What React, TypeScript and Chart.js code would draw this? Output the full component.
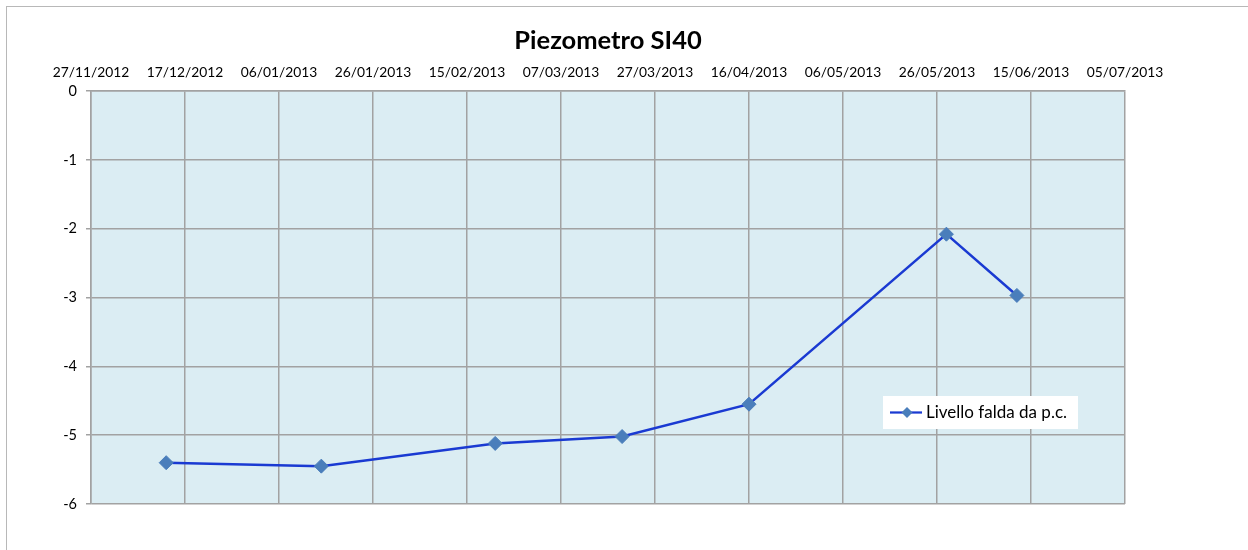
import React, { useEffect, useRef } from "react";
import { Chart, registerables } from "chart.js";

Chart.register(...registerables);

const chartTitle = "Piezometro SI40";
const seriesLabel = "Livello falda da p.c.";
const measureDates = ["2012-12-13", "2013-01-15", "2013-02-21", "2013-03-20", "2013-04-16", "2013-05-28", "2013-06-12"];
const levels = [-5.4, -5.45, -5.12, -5.02, -4.55, -2.08, -2.97];
const xAxisStart = "2012-11-27";
const xAxisEnd = "2013-07-05";
const xTickStepDays = 20;
const yMin = -6;
const yMax = 0;
const yStep = 1;

const DAY = 86400000;
const toMs = (s: string) => {
  const [y, m, d] = s.split("-").map(Number);
  return Date.UTC(y, m - 1, d);
};
const fmt = (v: number) => {
  const d = new Date(v);
  const dd = String(d.getUTCDate()).padStart(2, "0");
  const mm = String(d.getUTCMonth() + 1).padStart(2, "0");
  return `${dd}/${mm}/${d.getUTCFullYear()}`;
};

const FONT = "Lato";
const GRID = "#a2a2a2";

const bgPlugin = {
  id: "plotBg",
  beforeDraw(chart: any) {
    const { ctx, chartArea: a } = chart;
    ctx.save();
    ctx.fillStyle = "#dbedf3";
    ctx.fillRect(a.left, a.top, a.right - a.left, a.bottom - a.top);
    ctx.restore();
  },
};

const legendPlugin = {
  id: "innerLegend",
  afterDatasetsDraw(chart: any) {
    const { ctx, chartArea: a } = chart;
    const ds = chart.data.datasets[0];
    const x = a.right - 242;
    const y = a.top + 305;
    const w = 195;
    const h = 33;
    ctx.save();
    ctx.fillStyle = "#ffffff";
    ctx.fillRect(x, y, w, h);
    const cy = y + h / 2;
    ctx.strokeStyle = ds.borderColor;
    ctx.lineWidth = 2.25;
    ctx.beginPath();
    ctx.moveTo(x + 7, cy);
    ctx.lineTo(x + 39, cy);
    ctx.stroke();
    const r = 5.5;
    const cx = x + 24;
    ctx.fillStyle = ds.pointBackgroundColor;
    ctx.beginPath();
    ctx.moveTo(cx, cy - r);
    ctx.lineTo(cx + r, cy);
    ctx.lineTo(cx, cy + r);
    ctx.lineTo(cx - r, cy);
    ctx.closePath();
    ctx.fill();
    ctx.fillStyle = "#000";
    ctx.font = `17px ${FONT}`;
    ctx.textBaseline = "middle";
    ctx.textAlign = "left";
    ctx.fillText(ds.label, x + 43, cy);
    ctx.restore();
  },
};

export default function App() {
  const ref = useRef<HTMLCanvasElement>(null);
  useEffect(() => {
    if (!ref.current) return;
    const chart = new Chart(ref.current, {
      type: "line",
      data: {
        datasets: [
          {
            label: seriesLabel,
            data: measureDates.map((d, i) => ({ x: toMs(d), y: levels[i] })),
            borderColor: "#1a3ad2",
            borderWidth: 2.5,
            backgroundColor: "#4a7ebb",
            pointBackgroundColor: "#4a7ebb",
            pointBorderColor: "#4a7ebb",
            pointBorderWidth: 1,
            pointStyle: "rectRot",
            pointRadius: 7,
            tension: 0,
            fill: false,
          },
        ],
      },
      options: {
        animation: false,
        responsive: false,
        layout: { padding: { left: 0, right: 123, top: 0, bottom: 46 } },
        plugins: {
          legend: { display: false },
          tooltip: { enabled: false },
          title: {
            display: true,
            text: chartTitle,
            fullSize: false,
            color: "#000",
            font: { family: FONT, size: 25.5, weight: "bold" },
            padding: { top: 25.2, bottom: 3 },
          },
        },
        scales: {
          x: {
            type: "linear",
            position: "top",
            min: toMs(xAxisStart),
            max: toMs(xAxisEnd),
            afterFit(scale: any) {
              scale.height = 32.2;
            },
            ticks: {
              stepSize: xTickStepDays * DAY,
              callback: (v: any) => fmt(Number(v)),
              color: "#000",
              font: { family: FONT, size: 13.8 },
              padding: 10,
              maxRotation: 0,
              autoSkip: false,
            },
            grid: { color: GRID, lineWidth: 1.5, drawTicks: false },
            border: { color: GRID, width: 1.5 },
          },
          y: {
            type: "linear",
            min: yMin,
            max: yMax,
            afterFit(scale: any) {
              scale.width = 91;
            },
            ticks: {
              stepSize: yStep,
              color: "#000",
              font: { family: FONT, size: 14.5 },
              padding: 9,
            },
            grid: { color: GRID, lineWidth: 1.5, drawTicks: true, tickLength: 5 },
            border: { color: GRID, width: 1.5 },
          },
        },
      },
      plugins: [bgPlugin, legendPlugin],
    } as any);
    return () => chart.destroy();
  }, []);

  return (
    <div style={{ position: "fixed", left: 0, top: 0, width: 1248, height: 550, background: "#fff" }}>
      <div
        style={{
          position: "absolute",
          left: 6,
          top: 6,
          right: 0,
          bottom: 0,
          borderLeft: "1.5px solid #b8b8b8",
          borderTop: "1.5px solid #b8b8b8",
        }}
      />
      <canvas ref={ref} width={1248} height={550} style={{ position: "absolute", left: 0, top: 0 }} />
    </div>
  );
}
